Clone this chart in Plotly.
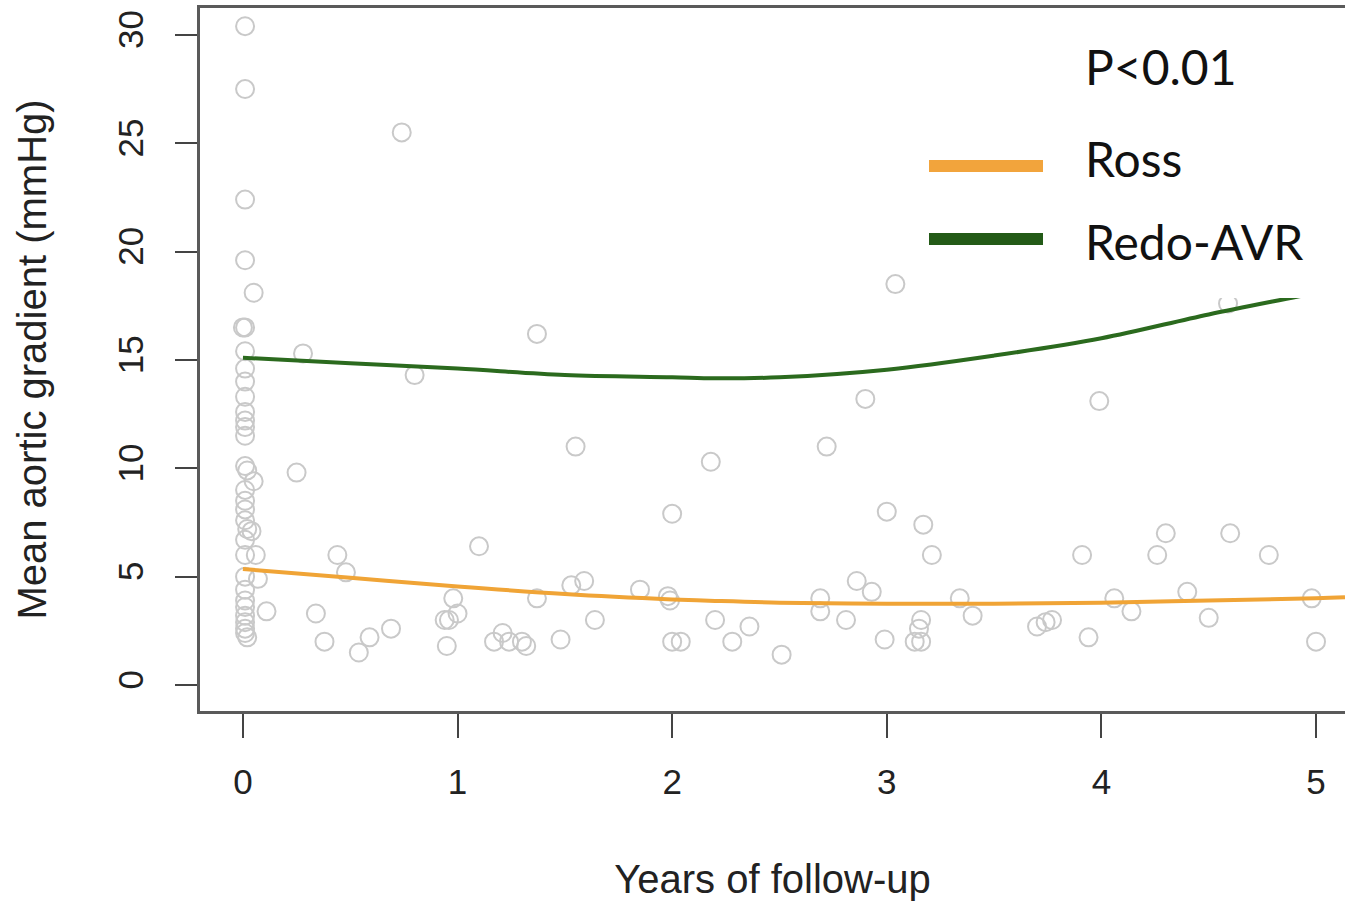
import plotly.graph_objects as go

# ---------------- data ----------------
years = [0.01, 0.01, 0.01, 0.01, 0.05, 0.0, 0.01, 0.01, 0.01, 0.01, 0.01, 0.01, 0.01, 0.01,
         0.01, 0.01, 0.02, 0.05, 0.01, 0.01, 0.01, 0.01, 0.02, 0.04, 0.01, 0.01, 0.06, 0.01,
         0.07, 0.01, 0.01, 0.01, 0.01, 0.01, 0.01, 0.01, 0.02, 0.11,
         0.74, 0.25, 0.28, 0.80, 1.37, 1.55, 1.10, 0.44, 0.48, 0.34, 0.38, 0.54, 0.59, 0.69,
         0.98, 1.00, 0.94, 0.96, 0.95, 1.17, 1.21, 1.24, 1.30, 1.32, 1.37, 1.48, 1.53, 1.59,
         1.64, 1.85, 1.98, 1.99, 2.00, 2.00, 2.04, 2.18, 2.20, 2.28, 2.36, 2.51, 2.69, 2.69,
         2.72, 2.81, 2.86, 2.93, 2.90, 3.04, 3.00, 2.99, 3.17, 3.21, 3.16, 3.15, 3.13, 3.16,
         3.34, 3.40, 3.70, 3.74, 3.77, 3.91, 3.99, 3.94, 4.06, 4.14, 4.26, 4.30, 4.40, 4.50,
         4.60, 4.59, 4.78, 4.98, 5.00]
gradient = [30.4, 27.5, 22.4, 19.6, 18.1, 16.5, 16.5, 15.4, 14.6, 14.0, 13.3, 12.6, 12.2, 11.9,
            11.5, 10.1, 9.9, 9.4, 9.0, 8.5, 8.1, 7.6, 7.2, 7.1, 6.7, 6.0, 6.0, 5.0,
            4.9, 4.4, 3.9, 3.6, 3.2, 2.9, 2.6, 2.4, 2.2, 3.4,
            25.5, 9.8, 15.3, 14.3, 16.2, 11.0, 6.4, 6.0, 5.2, 3.3, 2.0, 1.5, 2.2, 2.6,
            4.0, 3.3, 3.0, 3.0, 1.8, 2.0, 2.4, 2.0, 2.0, 1.8, 4.0, 2.1, 4.6, 4.8,
            3.0, 4.4, 4.1, 3.9, 7.9, 2.0, 2.0, 10.3, 3.0, 2.0, 2.7, 1.4, 4.0, 3.4,
            11.0, 3.0, 4.8, 4.3, 13.2, 18.5, 8.0, 2.1, 7.4, 6.0, 3.0, 2.6, 2.0, 2.0,
            4.0, 3.2, 2.7, 2.9, 3.0, 6.0, 13.1, 2.2, 4.0, 3.4, 6.0, 7.0, 4.3, 3.1,
            7.0, 17.6, 6.0, 4.0, 2.0]

curve_years = [0.0, 0.5, 1.0, 1.5, 2.0, 2.2, 2.5, 3.0, 3.5, 4.0, 4.5, 5.0, 5.135]
ross_fit = [5.35, 4.95, 4.55, 4.2, 3.95, 3.88, 3.8, 3.75, 3.75, 3.8, 3.9, 4.0, 4.05]
redo_fit = [15.1, 14.85, 14.6, 14.3, 14.2, 14.15, 14.2, 14.55, 15.2, 16.0, 17.1, 18.1, 18.4]

x_ticks = [0, 1, 2, 3, 4, 5]
y_ticks = [0, 5, 10, 15, 20, 25, 30]
p_text = "P<0.01"
series_names = ["Ross", "Redo-AVR"]
series_colors = ["#F0A436", "#2B6A1E"]
legend_colors = ["#F2A43C", "#235A17"]

# ---------------- figure ----------------
fig = go.Figure()
fig.add_trace(go.Scatter(
    x=years, y=gradient, mode="markers",
    marker=dict(symbol="circle-open", size=18, color="#C9C9C9", line=dict(width=2)),
    showlegend=False, hoverinfo="skip"))
for name, yv, col in zip(series_names, [ross_fit, redo_fit], series_colors):
    fig.add_trace(go.Scatter(x=curve_years, y=yv, mode="lines", name=name,
                             line=dict(color=col, width=4, shape="spline"),
                             showlegend=False))

axis_font = dict(family="Liberation Sans, Arial, sans-serif", size=35, color="#222")
title_font = dict(family="Liberation Sans, Arial, sans-serif", size=40, color="#222")

fig.update_layout(
    width=1345, height=902,
    margin=dict(l=200, r=0, t=8, b=191),
    paper_bgcolor="white", plot_bgcolor="white",
    xaxis=dict(range=[-0.2, 5.135], tickvals=x_ticks, ticktext=[str(v) for v in x_ticks],
               showgrid=False, zeroline=False, showline=True, mirror=True,
               linecolor="#5a5a5a", linewidth=2.5, ticks="outside", ticklen=24,
               tickwidth=2, tickcolor="#444", tickfont=axis_font, ticklabelstandoff=14,
               title=dict(text="Years of follow-up", font=title_font, standoff=66)),
    yaxis=dict(range=[-1.2, 31.24], tickvals=y_ticks, ticktext=[str(v) for v in y_ticks],
               showgrid=False, zeroline=False, showline=True, mirror=False,
               linecolor="#5a5a5a", linewidth=2.5, ticks="outside", ticklen=22,
               tickwidth=2, tickcolor="#444", tickfont=axis_font, tickangle=-90,
               ticklabelstandoff=18,
               title=dict(text="Mean aortic gradient (mmHg)", font=title_font, standoff=53)),
)

# legend-like box (white background) with line samples and labels
def px2x(px):
    return (px - 200) / 1145.0

def px2y(py):
    return (711 - py) / 703.0

fig.add_shape(type="rect", xref="paper", yref="paper", layer="above",
              x0=px2x(910), x1=1.0, y0=px2y(298), y1=px2y(12),
              fillcolor="white", line=dict(width=0))
leg_y = [166, 239]
for col, ly in zip(legend_colors, leg_y):
    fig.add_shape(type="line", xref="paper", yref="paper", layer="above",
                  x0=px2x(929), x1=px2x(1043), y0=px2y(ly), y1=px2y(ly),
                  line=dict(color=col, width=12))
leg_font = dict(family="Lato, Carlito, Calibri, sans-serif", size=48, color="#111")
for txt, ty in zip([p_text] + series_names, [66, 158, 241]):
    fig.add_annotation(xref="paper", yref="paper", x=px2x(1083), y=px2y(ty),
                       xanchor="left", yanchor="middle", text=txt, showarrow=False,
                       font=leg_font)

fig.write_html("out.html")
